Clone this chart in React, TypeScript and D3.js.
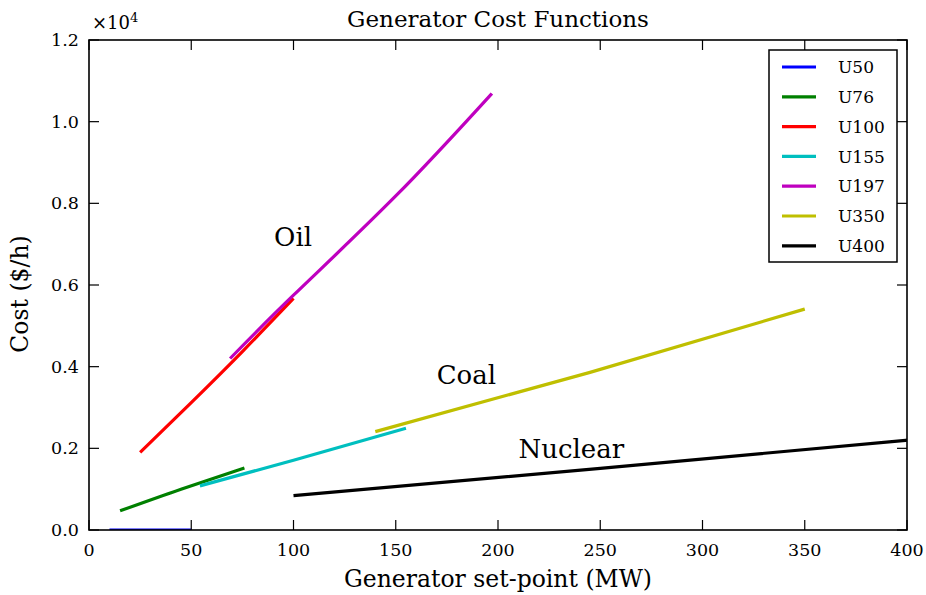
import React from "react";
import * as d3 from "d3";

const seriesNames = ["U50", "U76", "U100", "U155", "U197", "U350", "U400"];
const seriesColors = ["#0000ff", "#008000", "#ff0000", "#00bfbf", "#bf00bf", "#bfbf00", "#000000"];
const u50X = [10, 50];
const u50Y = [0, 0];
const u76X = [15.2, 45, 76];
const u76Y = [470, 1000, 1520];
const u100X = [25, 50, 75, 100];
const u100Y = [1900, 3120, 4370, 5670];
const u155X = [54.25, 100, 155];
const u155Y = [1080, 1710, 2490];
const u197X = [69, 100, 150, 197];
const u197Y = [4200, 5750, 8180, 10690];
const u350X = [140, 245, 350];
const u350Y = [2410, 3860, 5410];
const u400X = [100, 250, 400];
const u400Y = [840, 1510, 2200];

const xTicks = [0, 50, 100, 150, 200, 250, 300, 350, 400];
const yTicks = [0, 2000, 4000, 6000, 8000, 10000, 12000];
const yTickLabels = ["0.0", "0.2", "0.4", "0.6", "0.8", "1.0", "1.2"];

const annotations = [
  { text: "Oil", x: 90.5, y: 6950 },
  { text: "Coal", x: 170, y: 3575 },
  { text: "Nuclear", x: 210, y: 1770 },
];

const seriesX = [u50X, u76X, u100X, u155X, u197X, u350X, u400X];
const seriesY = [u50Y, u76Y, u100Y, u155Y, u197Y, u350Y, u400Y];

const W = 926;
const H = 595;
const L = 89, R = 907, T = 40, B = 530;
const FONT = "'DejaVu Serif', serif";

export default function App() {
  const x = d3.scaleLinear().domain([0, 400]).range([L, R]);
  const y = d3.scaleLinear().domain([0, 12000]).range([B, T]);
  const line = d3
    .line<[number, number]>()
    .x((d) => x(d[0]))
    .y((d) => y(d[1]))
    .curve(d3.curveNatural);

  const tickLen = 10;
  const legX = 769, legY = 50, legW = 128, legH = 212;

  return (
    <svg width={W} height={H} style={{ position: "absolute", left: 0, top: 0, background: "#fff" }}>
      <rect x={0} y={0} width={W} height={H} fill="#fff" />
      <defs>
        <clipPath id="plotclip">
          <rect x={L} y={T} width={R - L} height={B - T} />
        </clipPath>
      </defs>
      <g clipPath="url(#plotclip)">
        {seriesNames.map((name, i) => {
          const pts = seriesX[i].map((v, j) => [v, seriesY[i][j]] as [number, number]);
          return (
            <path key={name} d={line(pts) || ""} fill="none" stroke={seriesColors[i]} strokeWidth={3.2} />
          );
        })}
      </g>
      <rect x={L} y={T} width={R - L} height={B - T} fill="none" stroke="#000" strokeWidth={1.6} />
      {xTicks.map((t) => (
        <g key={"xt" + t}>
          <line x1={x(t)} x2={x(t)} y1={B} y2={B - tickLen} stroke="#000" strokeWidth={1.2} />
          <line x1={x(t)} x2={x(t)} y1={T} y2={T + tickLen} stroke="#000" strokeWidth={1.2} />
          <text x={x(t)} y={556} textAnchor="middle" fontFamily={FONT} fontSize={17.5}>
            {t}
          </text>
        </g>
      ))}
      {yTicks.map((t, i) => (
        <g key={"yt" + t}>
          <line x1={L} x2={L + tickLen} y1={y(t)} y2={y(t)} stroke="#000" strokeWidth={1.2} />
          <line x1={R} x2={R - tickLen} y1={y(t)} y2={y(t)} stroke="#000" strokeWidth={1.2} />
          <text x={79} y={y(t)} dy="0.35em" textAnchor="end" fontFamily={FONT} fontSize={17.5}
            textLength={28} lengthAdjust="spacing">
            {yTickLabels[i]}
          </text>
        </g>
      ))}
      <text x={92} y={29} fontFamily={FONT} fontSize={18}>
        ×10
        <tspan dy={-7} fontSize={13}>4</tspan>
      </text>
      <text x={(L + R) / 2 + 0} y={27} textAnchor="middle" fontFamily={FONT} fontSize={23}>
        Generator Cost Functions
      </text>
      <text x={(L + R) / 2} y={587} textAnchor="middle" fontFamily={FONT} fontSize={23.5}>
        Generator set-point (MW)
      </text>
      <text
        transform={`translate(28, ${(T + B) / 2 + 9}) rotate(-90)`}
        textAnchor="middle"
        fontFamily={FONT}
        fontSize={23.5}
      >
        Cost ($/h)
      </text>
      {annotations.map((a) => (
        <text key={a.text} x={x(a.x)} y={y(a.y)} fontFamily={FONT} fontSize={26}>
          {a.text}
        </text>
      ))}
      <rect x={legX} y={legY} width={legW} height={legH} fill="#fff" stroke="#000" strokeWidth={1.5} />
      {seriesNames.map((name, i) => {
        const cy = 67 + i * 29.8;
        return (
          <g key={"leg" + name}>
            <line x1={782} x2={816} y1={cy} y2={cy} stroke={seriesColors[i]} strokeWidth={3.2} />
            <text x={838} y={cy} dy="0.36em" fontFamily={FONT} fontSize={17}>
              {name}
            </text>
          </g>
        );
      })}
    </svg>
  );
}
